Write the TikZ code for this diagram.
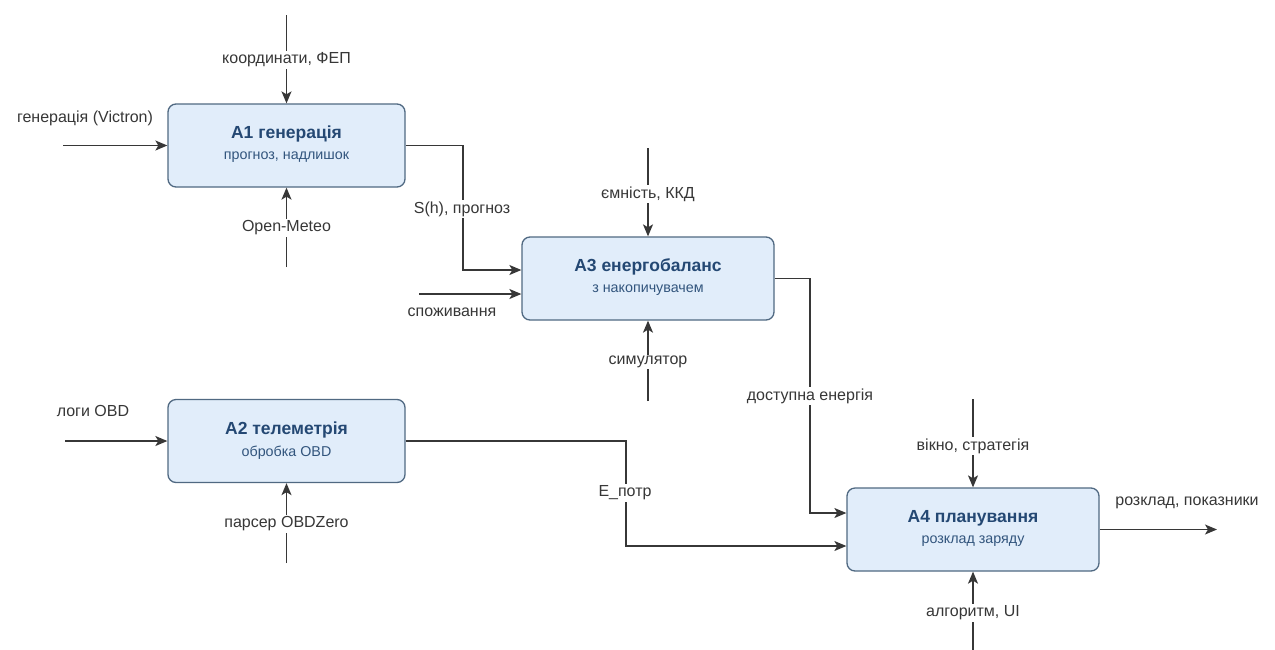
\documentclass[tikz,border=0pt]{standalone}
\usepackage{fontspec}
\setmainfont{Liberation Sans}
\usetikzlibrary{arrows.meta}
\definecolor{boxfill}{RGB}{225,237,250}
\definecolor{boxdraw}{RGB}{80,105,130}
\definecolor{ttl}{RGB}{36,72,115}
\definecolor{subc}{RGB}{50,85,125}
\definecolor{ln}{RGB}{55,55,55}
\definecolor{lbl}{RGB}{55,55,55}
\begin{document}
\begin{tikzpicture}[x=1pt,y=-1pt,
  proc/.style={draw=boxdraw, fill=boxfill, line width=1.3pt, rounded corners=8pt, minimum width=#1, minimum height=83pt, inner sep=0pt},
  ttlstyle/.style={font=\bfseries\fontsize{17.5}{20}\selectfont, text=ttl, inner sep=0pt},
  substyle/.style={font=\fontsize{14.3}{16}\selectfont, text=subc, inner sep=0pt},
  lab/.style={font=\fontsize{16}{18}\selectfont, text=lbl, fill=white, inner sep=1.5pt},
  flow/.style={draw=ln, line width=1.3pt, -{Stealth[length=12pt,width=10pt,inset=3pt]}},
  wire/.style={draw=ln, line width=1.3pt}
]
\useasboundingbox (0,0) rectangle (1275,649);
\fill[white] (0,0) rectangle (1275,649);

% boxes
\node[proc=237pt] (A1) at (286.5,145.5) {};
\node[ttlstyle] (A1t) at (286.5,134) {A1 генерація};
\node[substyle] (A1s) at (286.5,157) {прогноз, надлишок};

\node[proc=252pt] (A3) at (648,278.5) {};
\node[ttlstyle] (A3t) at (648,267) {A3 енергобаланс};
\node[substyle] (A3s) at (648,290) {з накопичувачем};

\node[proc=237pt] (A2) at (286.5,441) {};
\node[ttlstyle] (A2t) at (286.5,429.5) {A2 телеметрія};
\node[substyle] (A2s) at (286.5,452.5) {обробка OBD};

\node[proc=252pt] (A4) at (973,529.5) {};
\node[ttlstyle] (A4t) at (973,518) {A4 планування};
\node[substyle] (A4s) at (973,541) {розклад заряду};

% free ends and bends
\coordinate (a1in) at (63,145.5);
\coordinate (a1c) at (286.5,15);
\coordinate (a1m) at (286.5,267);
\coordinate (j1) at (463,145.5);
\coordinate (j1b) at (463,270);
\coordinate (a3in) at (419,294);
\coordinate (a3c) at (648,148);
\coordinate (a3m) at (648,401);
\coordinate (j3) at (810,278.5);
\coordinate (j3b) at (810,513);
\coordinate (a2in) at (65,441);
\coordinate (a2m) at (286.5,563);
\coordinate (j2) at (626,441);
\coordinate (j2b) at (626,546);
\coordinate (a4c) at (973,399);
\coordinate (a4m) at (973,652);
\coordinate (a4out) at (1217,529.5);

% connectors
\draw[flow] (a1in) -- (A1.west);
\draw[flow] (a1c) -- (A1.north);
\draw[flow] (a1m) -- (A1.south);
\draw[flow] (A1.east) -- (j1) -- (j1b) -- (j1b -| A3.west);
\draw[flow] (a3in) -- (a3in -| A3.west);
\draw[flow] (a3c) -- (A3.north);
\draw[flow] (a3m) -- (A3.south);
\draw[flow] (A3.east) -- (j3) -- (j3b) -- (j3b -| A4.west);
\draw[flow] (a2in) -- (A2.west);
\draw[flow] (a2m) -- (A2.south);
\draw[flow] (A2.east) -- (j2) -- (j2b) -- (j2b -| A4.west);
\draw[flow] (a4c) -- (A4.north);
\draw[flow] (a4m) -- (A4.south);
\draw[flow] (A4.east) -- (a4out);

% labels
\node[lab] (l1) at (85,118) {генерація (Victron)};
\node[lab] (l2) at (286.5,60) {координати, ФЕП};
\node[lab] (l3) at (286.5,228) {Open-Meteo};
\node[lab] (l4) at (462,209) {S(h), прогноз};
\node[lab] (l5) at (452,312) {споживання};
\node[lab] (l6) at (648,194) {ємність, ККД};
\node[lab] (l7) at (648,362) {симулятор};
\node[lab] (l8) at (810,396) {доступна енергія};
\node[lab] (l9) at (93,411) {логи OBD};
\node[lab] (l10) at (286.5,524) {парсер OBDZero};
\node[lab] (l11) at (625,493) {E\_потр};
\node[lab] (l12) at (973,446) {вікно, стратегія};
\node[lab] (l13) at (973,613) {алгоритм, UI};
\node[lab] (l14) at (1187,503) {розклад, показники};
\end{tikzpicture}
\end{document}
